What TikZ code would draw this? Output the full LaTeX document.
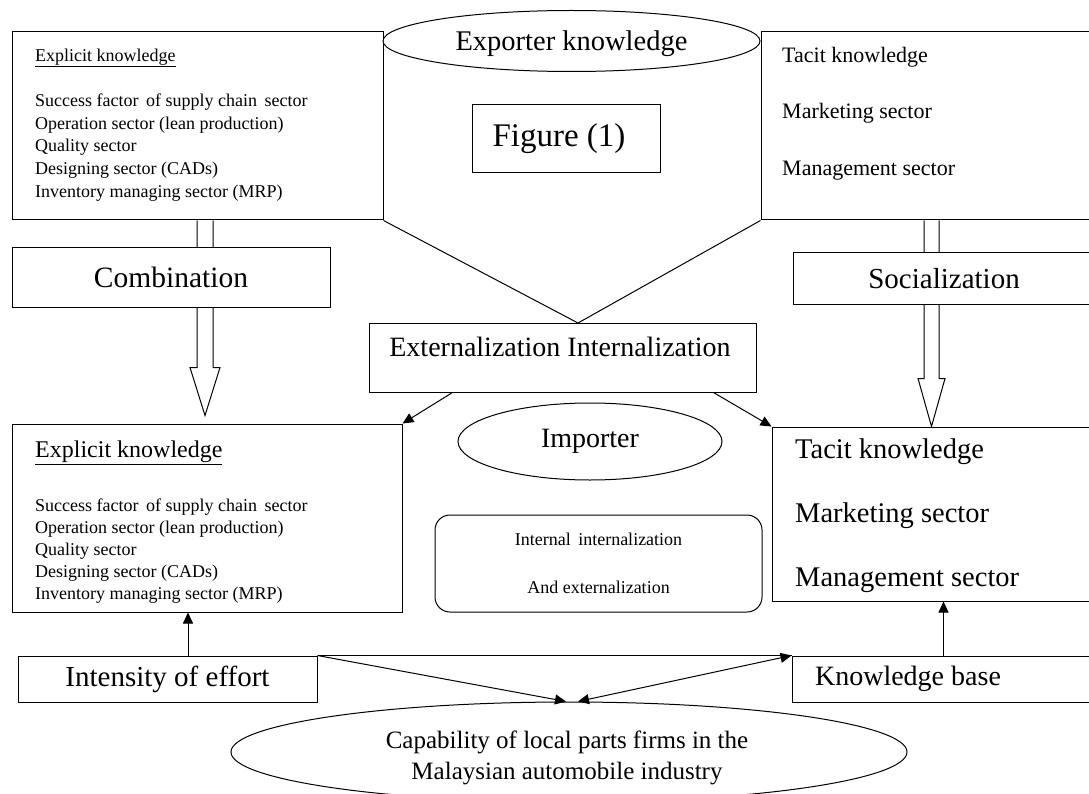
\documentclass[tikz,border=0pt]{standalone}
\usepackage{fontspec}
\setmainfont{Liberation Serif}
\usetikzlibrary{shapes.geometric,arrows.meta}
\begin{document}
\begin{tikzpicture}[x=1pt,y=-1pt,
  box/.style={draw,rectangle,line width=1pt,fill=white,inner sep=0pt},
  oval/.style={draw,ellipse,line width=1pt,fill=white,inner sep=0pt},
  txt/.style={inner sep=0pt,align=left},
  fs/.style={font=\fontsize{#1}{#1}\selectfont},
  arr/.style={line width=1pt,-{Triangle[length=11pt,width=10pt]}},
  darr/.style={line width=1pt,{Triangle[length=11pt,width=10pt]}-{Triangle[length=11pt,width=10pt]}},
  hollow/.style={draw,line width=1pt,fill=white,line join=miter},
  ln/.style={line width=1pt}]
\path[use as bounding box,fill=white] (0,0) rectangle (1089,794);
\clip (0,0) rectangle (1089,794);

% top boxes
\node[box,minimum width=371pt,minimum height=188pt] (tl) at (197.5,126) {};
\node[box,minimum width=334pt,minimum height=188pt] (tr) at (928,126) {};
\node[txt,anchor=north west,font=\fontsize{18}{22.7}\selectfont] (tltxt) at (35,48.5)
  {\underline{Explicit knowledge}\\[22.7pt]
   Success factor\, of supply chain\, sector\\
   Operation sector (lean production)\\
   Quality sector\\
   Designing sector (CADs)\\
   Inventory managing sector (MRP)};
\node[txt,anchor=north west,font=\fontsize{22}{28.2}\selectfont] (trtxt) at (782,47)
  {Tacit knowledge\\[28.2pt]Marketing sector\\[28.2pt]Management sector};

% cylinder
\coordinate (v) at (578,323);
\draw[ln] (tl.south east) -- (v) -- (tr.south west);
\node[oval,minimum width=377pt,minimum height=61pt,text depth=0pt,fs=28.5] (exp) at (571.5,41) {Exporter knowledge};
\node[box,minimum width=188pt,minimum height=68pt,fs=33] (fig) at (566,139) {Figure (1)\kern14pt};

% hollow arrows
\path (tl.south) ++(7.5,0) coordinate (la);
\draw[hollow] (la) ++(-8,0) -- ++(0,147) -- ++(-7,0) -- ++(15,48) -- ++(15,-48) -- ++(-7,0) -- ++(0,-147);
\path (tr.south) ++(3.5,0) coordinate (ra);
\draw[hollow] (ra) ++(-7.5,0) -- ++(0,158) -- ++(-6,0) -- ++(13.5,48) -- ++(13.5,-48) -- ++(-6,0) -- ++(0,-158);

\node[box,minimum width=318pt,minimum height=59pt,fs=29.5] (comb) at (171,277.5) {Combination};
\node[box,minimum width=302pt,minimum height=51pt,fs=29] (soc) at (944,278.5) {Socialization};

% externalization
\node[box,minimum width=387pt,minimum height=69pt] (ext) at (562.5,357.5) {};
\node[inner sep=0pt,fs=28] (exttxt) at (560,347) {Externalization Internalization};

% bottom boxes
\node[box,minimum width=390pt,minimum height=188pt] (bl) at (207,518) {};
\node[box,minimum width=323pt,minimum height=174pt] (br) at (933.5,514) {};
\node[txt,anchor=north west,font=\fontsize{18}{22}\selectfont] (bltxt) at (35,441)
  {{\fontsize{24}{28}\selectfont\underline{Explicit knowledge}}\\[32pt]
   Success factor\, of supply chain\, sector\\
   Operation sector (lean production)\\
   Quality sector\\
   Designing sector (CADs)\\
   Inventory managing sector (MRP)};
\node[txt,anchor=north west,font=\fontsize{28.5}{32}\selectfont] (brtxt) at (795,439)
  {Tacit knowledge\\[32pt]Marketing sector\\[32pt]Management sector};

\node[oval,minimum width=264pt,minimum height=77pt,fs=28] (imp) at (590,441.5) {Importer};
\node[box,rounded corners=15pt,minimum width=327pt,minimum height=97pt,align=center,
  font=\fontsize{18}{24}\selectfont] (inr) at (598.5,563.5)
  {Internal\, internalization\\[24pt]And externalization};

\draw[arr] ([xshift=84pt]ext.south west) -- (bl.north east);
\draw[arr] ([xshift=-43pt]ext.south east) -- (br.north west);

% bottom row
\node[box,minimum width=299pt,minimum height=46pt,fs=29] (int) at (167.5,679) {Intensity of effort};
\node[box,minimum width=303pt,minimum height=46pt,fs=28] (kb) at (943.5,679) {Knowledge base\kern71pt};
\node[oval,minimum width=676pt,minimum height=100pt] (cap) at (569,752) {};
\node[inner sep=0pt,align=center,font=\fontsize{25}{31}\selectfont] (captxt) at (567,758)
  {Capability of local parts firms in the\\Malaysian automobile industry};

\draw[arr] ([xshift=20.5pt]int.north) -- ([xshift=20.5pt]int.north |- bl.south);
\draw[arr] (kb.north) -- (kb.north |- br.south);
\draw[ln] (int.north east) -- (kb.north west);
\draw[arr] (int.north east) -- ([xshift=-3pt]cap.north);
\draw[darr] (kb.north west) -- ([xshift=9pt]cap.north);
\end{tikzpicture}
\end{document}
